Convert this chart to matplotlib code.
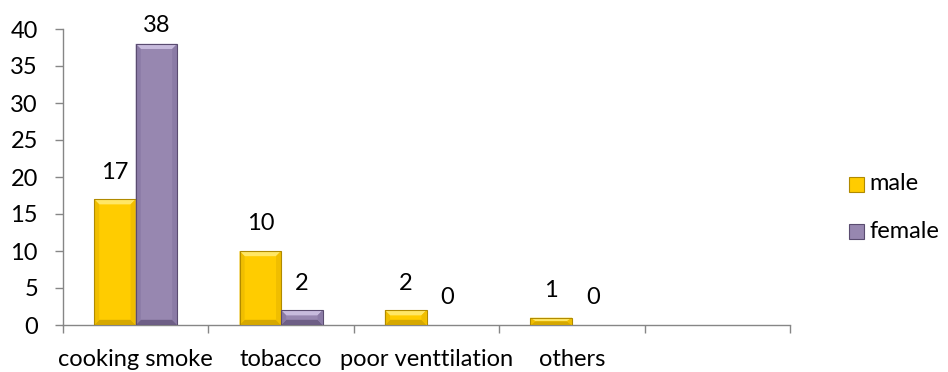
import numpy as np
import matplotlib.pyplot as plt
from matplotlib.patches import Polygon, Rectangle

categories = ["cooking smoke", "tobacco", "poor venttilation", "others", ""]
male = [17, 10, 2, 1, None]
female = [38, 2, 0, 0, None]
y_ticks = [0, 5, 10, 15, 20, 25, 30, 35, 40]
series_names = ["male", "female"]

plt.rcParams['font.family'] = ['Lato', 'DejaVu Sans']
FS = 17

W, H = 948, 372
fig = plt.figure(figsize=(W / 100, H / 100), dpi=100)
ax = fig.add_axes([63 / W, 1 - 325 / H, (790 - 63) / W, (325 - 29) / H])

# colours: main, top bevel, bottom bevel, side bevel, edge
styles = {
    "male": ("#FFCC00", "#FFE766", "#D6A800", "#F0BE00", "#B08A00"),
    "female": ("#9787B0", "#C7BBDD", "#6E5F86", "#8B7BA6", "#5A4C70"),
}

bw = 0.286
x = np.arange(len(categories))


def bevel_bar(ax, xc, h, style):
    main, top, bot, side, edge = style
    x0, x1 = xc - bw / 2, xc + bw / 2
    if h <= 0:
        return
    bx = 0.035
    by = min(0.7, h / 2.0)
    ax.add_patch(Rectangle((x0, 0), bw, h, facecolor=main, edgecolor='none', zorder=3))
    ax.add_patch(Polygon([(x0, h), (x1, h), (x1 - bx, h - by), (x0 + bx, h - by)],
                         closed=True, facecolor=top, edgecolor='none', zorder=4))
    ax.add_patch(Polygon([(x0, 0), (x1, 0), (x1 - bx, by), (x0 + bx, by)],
                         closed=True, facecolor=bot, edgecolor='none', zorder=4))
    ax.add_patch(Polygon([(x0, 0), (x0, h), (x0 + bx, h - by), (x0 + bx, by)],
                         closed=True, facecolor=side, edgecolor='none', zorder=4))
    ax.add_patch(Polygon([(x1, 0), (x1, h), (x1 - bx, h - by), (x1 - bx, by)],
                         closed=True, facecolor=side, edgecolor='none', zorder=4))
    ax.add_patch(Rectangle((x0, 0), bw, h, facecolor='none', edgecolor=edge, lw=0.8, zorder=5))


for i in range(len(categories)):
    for vals, key, off in ((male, "male", -bw / 2), (female, "female", bw / 2)):
        v = vals[i]
        if v is None:
            continue
        bevel_bar(ax, x[i] + off, v, styles[key])
        # label sits ~27px above the bar, pushed down if it would leave the chart
        ax.text(x[i] + off, min(v + 3.65, 40.5), str(v), ha='center', va='center',
                fontsize=FS, color='#000000', clip_on=False)

ax.set_xlim(-0.5, len(categories) - 0.5)
ax.set_ylim(0, 40)
ax.set_yticks(y_ticks)
ax.set_yticklabels([str(t) for t in y_ticks], fontsize=FS)

ax.set_xticks(np.arange(len(categories) + 1) - 0.5)
ax.set_xticklabels([])
ax.set_xticks(x, minor=True)
ax.set_xticklabels(categories, minor=True, fontsize=FS)
ax.tick_params(axis='x', which='minor', length=0, pad=17)
ax.tick_params(axis='x', which='major', length=6, color='#868686', width=1)
ax.tick_params(axis='y', length=6, color='#868686', width=1, pad=12)

for s in ('top', 'right'):
    ax.spines[s].set_visible(False)
for s in ('left', 'bottom'):
    ax.spines[s].set_color('#868686')
    ax.spines[s].set_linewidth(1)

# legend drawn by hand so it sits where the original one does
for name, yc in zip(series_names, (184, 231)):
    st = styles[name]
    fig.patches.append(Rectangle((849 / W, 1 - (yc + 7.5) / H), 15 / W, 15 / H,
                                 transform=fig.transFigure, facecolor=st[0],
                                 edgecolor=st[4], lw=0.8))
    fig.text(869 / W, 1 - yc / H, name, fontsize=FS, va='center', ha='left')

fig.savefig("out.png", dpi=100)
